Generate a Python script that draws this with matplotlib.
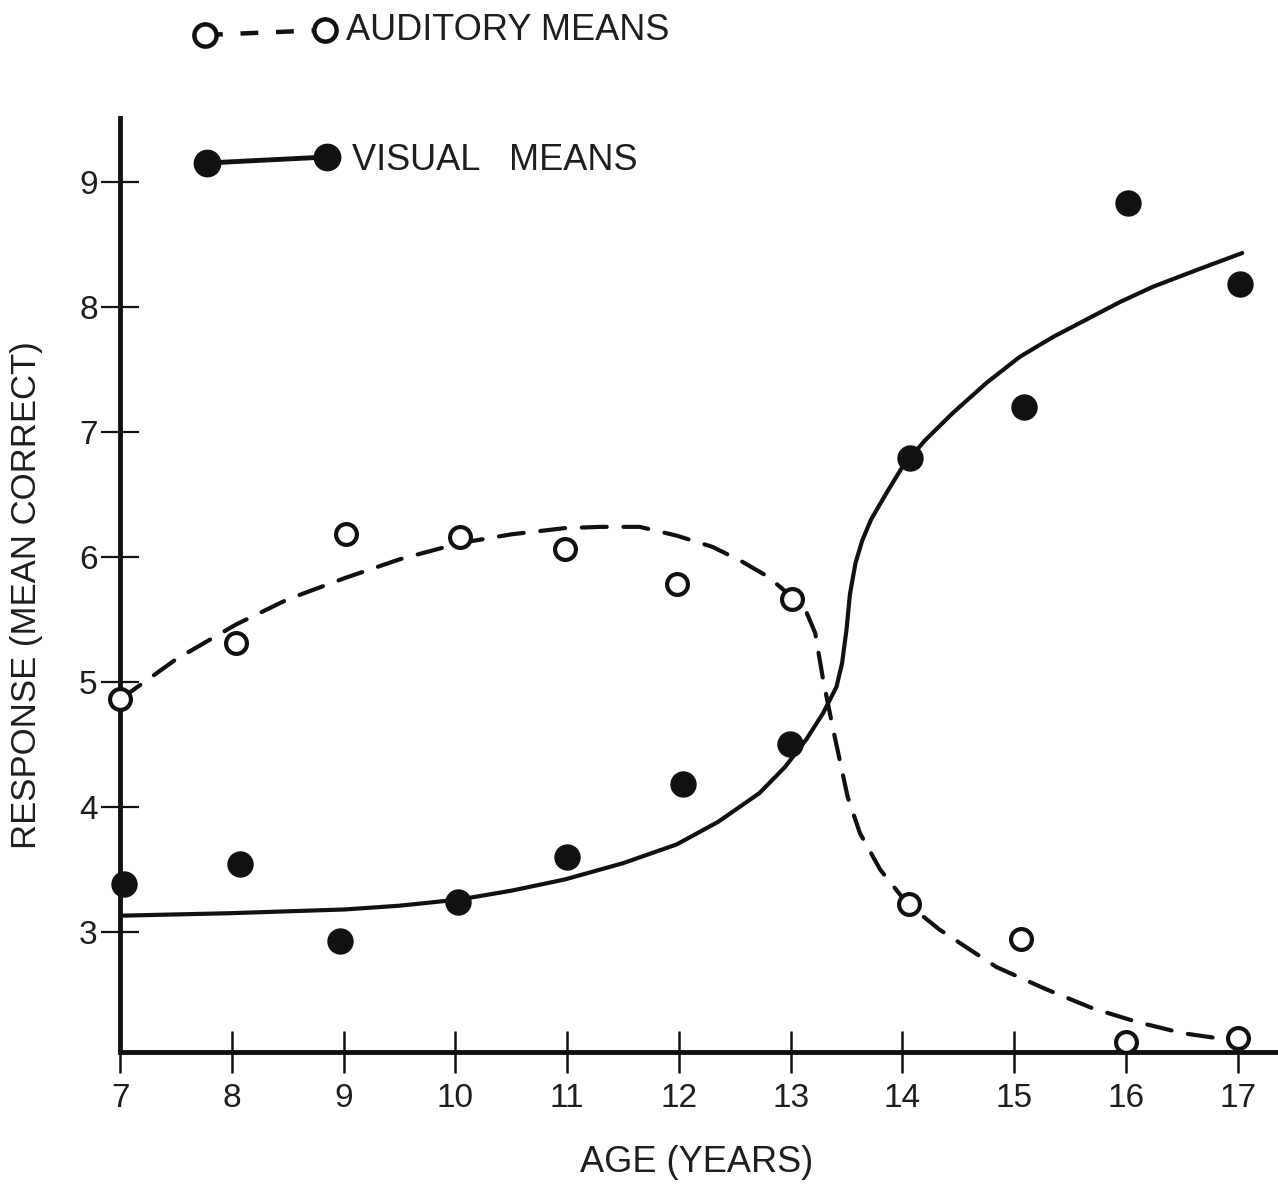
import matplotlib
matplotlib.use("Agg")
import matplotlib.pyplot as plt
from matplotlib.lines import Line2D

plt.rcParams['font.family'] = ['Liberation Sans', 'DejaVu Sans']

# ---- data ----
ages = [7, 8, 9, 10, 11, 12, 13, 14, 15, 16, 17]
age_labels = ['7', '8', '9', '10', '11', '12', '13', '14', '15', '16', '17']
y_ticks = [3, 4, 5, 6, 7, 8, 9]

aud_x = [7.0, 8.04, 9.02, 10.04, 10.98, 11.98, 13.01, 14.06, 15.06, 16.0, 17.0]
aud_y = [4.86, 5.31, 6.18, 6.16, 6.06, 5.78, 5.66, 3.22, 2.94, 2.12, 2.15]

vis_x = [7.04, 8.07, 8.97, 10.02, 11.0, 12.04, 12.99, 14.07, 15.09, 16.02, 17.02]
vis_y = [3.38, 3.54, 2.93, 3.24, 3.60, 4.18, 4.50, 6.79, 7.20, 8.83, 8.18]

# fitted curves as drawn
aud_fit_x = [7.0, 7.5, 8.04, 8.5, 9.01, 9.5, 10.04, 10.5, 10.98, 11.3, 11.65, 11.98,
             12.3, 12.55, 12.8, 13.01, 13.14, 13.22, 13.25, 13.29, 13.38, 13.45,
             13.51, 13.62, 13.80, 14.04, 14.33, 14.84, 15.29, 15.70, 16.10, 16.51,
             16.90, 17.0]
aud_fit_y = [4.86, 5.18, 5.46, 5.66, 5.83, 5.98, 6.11, 6.18, 6.23, 6.24, 6.24, 6.17,
             6.08, 5.97, 5.84, 5.68, 5.56, 5.39, 5.23, 5.02, 4.62, 4.33,
             4.08, 3.79, 3.50, 3.23, 3.02, 2.72, 2.54, 2.39, 2.28, 2.19,
             2.14, 2.13]

vis_fit_x = [7.0, 7.98, 9.01, 9.5, 10.04, 10.5, 10.98, 11.5, 11.98, 12.35, 12.72,
             12.95, 13.14, 13.29, 13.41, 13.46, 13.50, 13.53, 13.58, 13.64, 13.72,
             13.85, 14.00, 14.20, 14.45, 14.75, 15.05, 15.35, 15.65, 15.95, 16.24,
             16.65, 17.04]
vis_fit_y = [3.13, 3.15, 3.18, 3.21, 3.26, 3.33, 3.42, 3.55, 3.70, 3.88, 4.11,
             4.32, 4.54, 4.75, 4.96, 5.15, 5.42, 5.70, 5.95, 6.13, 6.30,
             6.50, 6.72, 6.93, 7.15, 7.39, 7.60, 7.76, 7.90, 8.04, 8.16,
             8.30, 8.43]

ink = '#111111'
txt = '#1e1e1e'

fig = plt.figure(figsize=(12.78, 11.89), dpi=100)
ax = fig.add_axes([120 / 1278, 1 - 1052 / 1189, 1 - 120 / 1278, (1052 - 118) / 1189])

ax.plot(aud_fit_x, aud_fit_y, color=ink, lw=3.0, dashes=(6, 4),
        dash_capstyle='round', solid_joinstyle='round')
ax.plot(vis_fit_x, vis_fit_y, color=ink, lw=3.0, solid_capstyle='round',
        solid_joinstyle='round')
ax.plot(aud_x, aud_y, 'o', ms=15, mfc='white', mec=ink, mew=3.0, clip_on=False, zorder=5)
ax.plot(vis_x, vis_y, 'o', ms=18, mfc=ink, mec=ink, clip_on=False, zorder=5)

ax.set_xlim(7, 17.36)
ax.set_ylim(2.04, 9.51)
ax.set_xticks(ages)
ax.set_xticklabels(age_labels)
ax.set_yticks(y_ticks)
ax.set_yticklabels([f'{v}' for v in y_ticks])

for s in ['top', 'right']:
    ax.spines[s].set_visible(False)
for s in ['left', 'bottom']:
    ax.spines[s].set_linewidth(3.5)
    ax.spines[s].set_color(ink)

ax.tick_params(axis='x', direction='inout', length=30, width=1.8, pad=7,
               labelsize=24, colors=ink, labelcolor=txt)
ax.tick_params(axis='y', direction='inout', length=28, width=1.6, pad=2,
               labelsize=24, colors=ink, labelcolor=txt)

def fx(px):
    return px / 1278

def fy(py):
    return 1 - py / 1189

fig.text(fx(697), fy(1163), 'AGE (YEARS)', fontsize=26, color=txt,
         ha='center', va='center')
fig.text(fx(27), fy(595), 'RESPONSE (MEAN CORRECT)', fontsize=25, color=txt,
         ha='center', va='center', rotation=90)

# legend drawn in figure-pixel fractions
fig.add_artist(Line2D([fx(205), fx(325)], [fy(35), fy(30)], color=ink, lw=3.2,
                      dashes=(4, 4), transform=fig.transFigure))
fig.add_artist(Line2D([fx(205), fx(325)], [fy(35), fy(30)], ls='none', marker='o',
                      ms=16, mfc='white', mec=ink, mew=3.2, transform=fig.transFigure))
fig.text(fx(346), fy(30), 'AUDITORY MEANS', fontsize=26, color=txt,
         va='center', ha='left')

fig.add_artist(Line2D([fx(207), fx(327)], [fy(163), fy(157)], color=ink, lw=3.5,
                      marker='o', ms=19, mfc=ink, mec=ink, transform=fig.transFigure))
fig.text(fx(352), fy(160), 'VISUAL   MEANS', fontsize=26, color=txt,
         va='center', ha='left')

fig.savefig('out.png', dpi=100, facecolor='white')
